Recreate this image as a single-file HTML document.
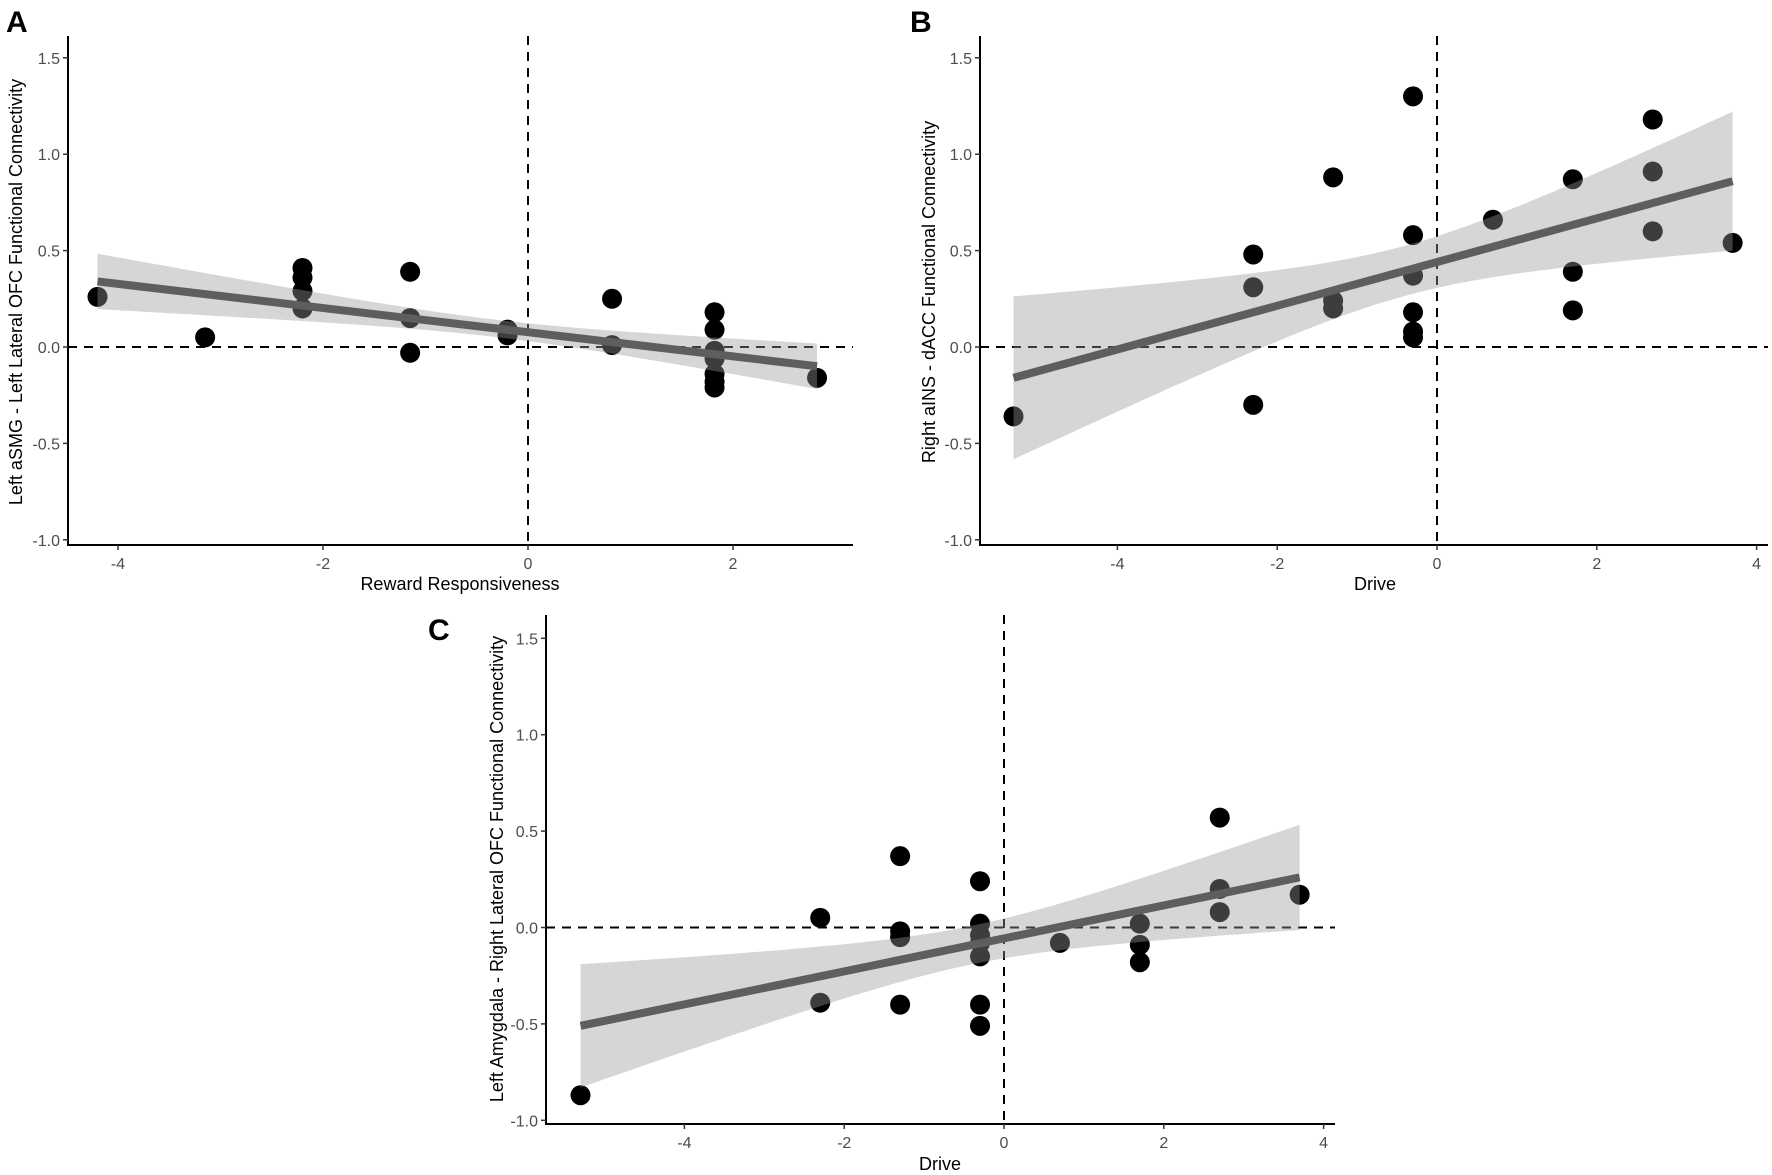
<!DOCTYPE html>
<html><head><meta charset="utf-8"><style>
html,body{margin:0;padding:0;background:#fff;}
svg{display:block;font-family:"Liberation Sans",Arial,sans-serif;}
</style></head><body>
<svg id="fig" width="1772" height="1175" viewBox="0 0 1772 1175"></svg>
<script>
// ---- Panel A data ----
const aX = [-4.2,-3.15,-2.2,-2.2,-2.2,-2.2,-1.15,-1.15,-1.15,-0.2,-0.2,0.82,0.82,1.82,1.82,1.82,1.82,1.82,1.82,1.82,2.82];
const aY = [0.26,0.05,0.41,0.36,0.29,0.20,0.39,0.15,-0.03,0.09,0.06,0.25,0.01,0.18,0.09,-0.02,-0.06,-0.14,-0.18,-0.21,-0.16];
const aFit = [-4.2,0.34,2.82,-0.10];
const aBand = [-0.3,0.045,0.035];
// ---- Panel B data ----
const bX = [-5.3,-2.3,-2.3,-2.3,-1.3,-1.3,-1.3,-0.3,-0.3,-0.3,-0.3,-0.3,-0.3,0.7,1.7,1.7,1.7,2.7,2.7,2.7,3.7];
const bY = [-0.36,0.48,0.31,-0.30,0.88,0.24,0.20,1.30,0.58,0.37,0.18,0.08,0.05,0.66,0.87,0.39,0.19,1.18,0.91,0.60,0.54];
const bFit = [-5.3,-0.16,3.7,0.86];
const bBand = [-0.4,0.13,0.082];
// ---- Panel C data ----
const cX = [-5.3,-2.3,-2.3,-1.3,-1.3,-1.3,-1.3,-0.3,-0.3,-0.3,-0.3,-0.3,-0.3,-0.3,0.7,1.7,1.7,1.7,2.7,2.7,2.7,3.7];
const cY = [-0.87,0.05,-0.39,0.37,-0.02,-0.05,-0.40,0.24,0.02,-0.04,-0.08,-0.15,-0.40,-0.51,-0.08,0.02,-0.09,-0.18,0.57,0.20,0.08,0.17];
const cFit = [-5.3,-0.51,3.7,0.26];
const cBand = [-0.4,0.10,0.062];
// ---- ticks ----
const yTicks = [-1.0,-0.5,0.0,0.5,1.0,1.5];
const yTickLabels = ["-1.0","-0.5","0.0","0.5","1.0","1.5"];
const xTicksA = [-4,-2,0,2];
const xTicksB = [-4,-2,0,2,4];

const NS="http://www.w3.org/2000/svg";
const svg=document.getElementById('fig');
function mk(tag,attrs,parent){const e=document.createElementNS(NS,tag);for(const k in attrs)e.setAttribute(k,attrs[k]);(parent||svg).appendChild(e);return e;}

function panel(p){
  const g=mk('g',{});
  
  
  const sx=v=>p.x0+(v)*p.ux;
  const sy=v=>p.y0-(v)*p.uy;
  const vl=mk('line',{x1:sx(0),x2:sx(0),y1:p.top,y2:p.axisY,stroke:'#000','stroke-width':2,'stroke-dasharray':'9,7'},g);
  
  
  const hl=mk('line',{x1:p.axisX,x2:p.right,y1:sy(0),y2:sy(0),stroke:'#000','stroke-width':2,'stroke-dasharray':'9,7'},g);
  
  
  for(let i=0;i<p.xs.length;i++){
    const c=mk('circle',{cx:sx(p.xs[i]),cy:sy(p.ys[i]),r:10,fill:'#000'},g);
    
    
  }
  const [x1,y1,x2,y2]=p.fit;const slope=(y2-y1)/(x2-x1);
  const [xm,h0,k]=p.band;
  const up=[],lo=[];
  for(let i=0;i<=60;i++){const x=x1+(x2-x1)*i/60;const m=y1+slope*(x-x1);const h=Math.sqrt(h0*h0+k*k*(x-xm)*(x-xm));
    up.push(sx(x)+','+sy(m+h));lo.unshift(sx(x)+','+sy(m-h));}
  const band=mk('polygon',{points:up.concat(lo).join(' '),fill:'#999','fill-opacity':0.4},g);
  
  
  const fl=mk('line',{x1:sx(x1),y1:sy(y1),x2:sx(x2),y2:sy(y2),stroke:'#5e5e5e','stroke-width':8},g);
  
  
  const ya=mk('line',{x1:p.axisX,x2:p.axisX,y1:p.top,y2:p.axisY+1,stroke:'#000','stroke-width':2},g);
  
  
  const xa=mk('line',{x1:p.axisX-1,x2:p.right,y1:p.axisY,y2:p.axisY,stroke:'#000','stroke-width':2},g);
  
  
  yTicks.forEach((v,i)=>{
    mk('line',{x1:p.axisX-5,x2:p.axisX,y1:sy(v),y2:sy(v),stroke:'#333','stroke-width':1.5},g);
    const t=mk('text',{x:p.axisX-8,y:sy(v)+6,'text-anchor':'end','font-size':16,fill:'#4d4d4d'},g);
    t.textContent=yTickLabels[i];
    
    
  });
  p.xt.forEach(v=>{
    mk('line',{x1:sx(v),x2:sx(v),y1:p.axisY,y2:p.axisY+5,stroke:'#333','stroke-width':1.5},g);
    const t=mk('text',{x:sx(v),y:p.axisY+24,'text-anchor':'middle','font-size':16,fill:'#4d4d4d'},g);
    t.textContent=String(v);
    
    
  });
  const xt=mk('text',{x:p.xlx,y:p.xly,'text-anchor':'middle','font-size':18,fill:'#000'},g);
  xt.textContent=p.xlab;
  
  
  const yt=mk('text',{x:0,y:0,'text-anchor':'middle','font-size':18,fill:'#000',transform:`translate(${p.ylx},${p.yly}) rotate(-90)`},g);
  yt.textContent=p.ylab;
  
  
  const L=mk('text',{x:p.lx,y:p.ly,'font-size':30,'font-weight':'bold',fill:'#000'},g);
  L.textContent=p.id;
  
  
}
panel({id:'A',xs:aX,ys:aY,fit:aFit,band:aBand,xt:xTicksA,x0:528,ux:102.5,y0:347,uy:192.8,
  axisX:68,axisY:545,top:36,right:853,xlab:'Reward Responsiveness',xlx:460,xly:590,
  ylab:'Left aSMG - Left Lateral OFC Functional Connectivity',ylx:22,yly:292,lx:6,ly:32});
panel({id:'B',xs:bX,ys:bY,fit:bFit,band:bBand,xt:xTicksB,x0:1437,ux:79.9,y0:347,uy:192.8,
  axisX:980,axisY:545,top:36,right:1768,xlab:'Drive',xlx:1375,xly:590,
  ylab:'Right aINS - dACC Functional Connectivity',ylx:935,yly:292,lx:910,ly:32});
panel({id:'C',xs:cX,ys:cY,fit:cFit,band:cBand,xt:xTicksB,x0:1004,ux:79.9,y0:927.5,uy:192.8,
  axisX:546,axisY:1124,top:615,right:1335,xlab:'Drive',xlx:940,xly:1170,
  ylab:'Left Amygdala - Right Lateral OFC Functional Connectivity',ylx:503,yly:869,lx:428,ly:640});
</script>
</body></html>
